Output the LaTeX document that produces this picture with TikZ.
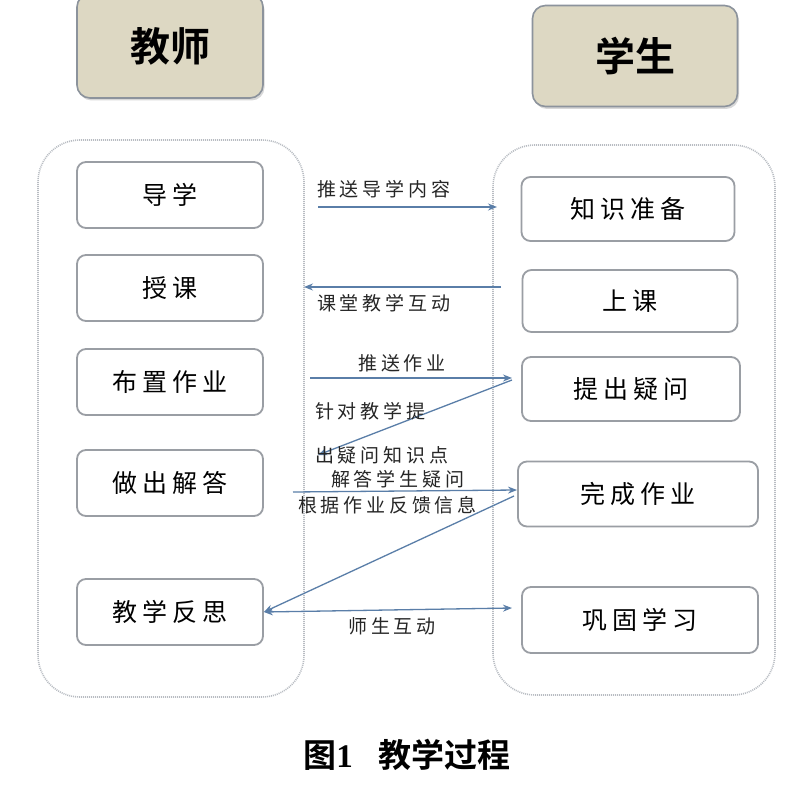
\documentclass[tikz,border=0pt]{standalone}
\usepackage{fontspec}
\setmainfont{Liberation Serif}
\newfontfamily\cjk{Noto Sans CJK SC}
\newfontfamily\cjksp[LetterSpace=20]{Noto Sans CJK SC}
\newfontfamily\cjkb{Noto Sans CJK SC Bold}
\usetikzlibrary{arrows.meta,shadows}
\definecolor{hdrfill}{HTML}{DDD8C3}
\definecolor{hdrline}{HTML}{8C939C}
\definecolor{boxline}{HTML}{9A9EA4}
\definecolor{arr}{HTML}{5A7EA8}
\definecolor{cont}{HTML}{B8BCC2}
\tikzset{
  hdr/.style={draw=hdrline, line width=1.6pt, fill=hdrfill, rounded corners=13pt,
    drop shadow={shadow xshift=1.5pt, shadow yshift=-2.5pt, fill=gray!60},
    font=\cjkb\fontsize{40}{44}\selectfont, inner sep=0pt},
  container/.style={draw=cont, line width=1.6pt, dash pattern=on 1pt off 1pt, rounded corners=42pt},
  tbox/.style={draw=boxline, line width=1.8pt, fill=white, rounded corners=9pt,
    font=\cjksp\fontsize{25}{28}\selectfont, inner sep=0pt},
  lbl/.style={font=\cjksp\fontsize{19}{22}\selectfont, inner sep=1pt, text=black!85},
  conn/.style={draw=arr, line width=1.3pt, -{Stealth[length=9pt,width=7pt]}},
  connb/.style={draw=arr, line width=1.3pt, {Stealth[length=9pt,width=7pt]}-{Stealth[length=9pt,width=7pt]}},
}
\begin{document}
\begin{tikzpicture}[x=1pt,y=-1pt]
\useasboundingbox (0,0) rectangle (798,797);
\fill[white] (0,0) rectangle (798,797);
% containers
\draw[container] (38,140) rectangle (304,697);
\draw[container] (493,145) rectangle (775,695);
% headers
\node[hdr, minimum width=186pt, minimum height=104pt] (teacher) at (170,46) {教师};
\node[hdr, minimum width=205pt, minimum height=101pt] (student) at (635,56) {学生};
% left boxes
\node[tbox, minimum width=186pt, minimum height=66pt] (dx) at (170,195) {导学};
\node[tbox, minimum width=186pt, minimum height=66pt] (sk) at (170,288) {授课};
\node[tbox, minimum width=186pt, minimum height=66pt] (bz) at (170,382) {布置作业};
\node[tbox, minimum width=186pt, minimum height=66pt] (zc) at (170,483) {做出解答};
\node[tbox, minimum width=186pt, minimum height=66pt] (fs) at (170,612) {教学反思};
% right boxes
\node[tbox, minimum width=213pt, minimum height=64pt] (zs) at (628,209) {知识准备};
\node[tbox, minimum width=215pt, minimum height=62pt] (sc) at (630,301) {上课};
\node[tbox, minimum width=218pt, minimum height=64pt] (tc) at (631,389) {提出疑问};
\node[tbox, minimum width=240pt, minimum height=65pt] (wc) at (638,494) {完成作业};
\node[tbox, minimum width=236pt, minimum height=66pt] (gg) at (640,620) {巩固学习};
% connector end points
\coordinate (a1s) at (318,207);
\coordinate (a1e) at (497,207);
\coordinate (a2s) at (501,287);
\coordinate (a2e) at (304,287);
\coordinate (a3s) at (310,378);
\coordinate (a3e) at (512,378);
\coordinate (a4s) at (512,380);
\coordinate (a4e) at (318,455);
\coordinate (a5s) at (293,492);
\coordinate (a5e) at (517,490);
\coordinate (a6s) at (514,496);
\coordinate (a7e) at (512,608);
% connectors
\draw[conn] (a1s) -- (a1e);
\draw[conn] (a2s) -- (a2e);
\draw[conn] (a3s) -- (a3e);
\draw[conn] (a4s) -- (a4e);
\draw[conn] (a5s) -- (a5e);
\draw[conn] (a6s) -- (fs.east);
\draw[connb] (fs.east) -- (a7e);
% labels
\node[lbl, anchor=west] (l1) at (316,189) {推送导学内容};
\node[lbl, anchor=west] (l2) at (316,303) {课堂教学互动};
\node[lbl] (l3) at (402,363) {推送作业};
\node[lbl, anchor=west] (l4a) at (314,411) {针对教学提};
\node[lbl, anchor=west] (l4b) at (314,455) {出疑问知识点};
\node[lbl, anchor=west] (l5b) at (330,479) {解答学生疑问};
\node[lbl, anchor=west] (l5a) at (297,505) {根据作业反馈信息};
\node[lbl] (l7) at (392,626) {师生互动};
% caption
\node[font=\cjkb\fontsize{33}{36}\selectfont, inner sep=0pt] (cap) at (407,755) {图{\rmfamily\bfseries 1}\hspace{26pt}教学过程};
\end{tikzpicture}
\end{document}
